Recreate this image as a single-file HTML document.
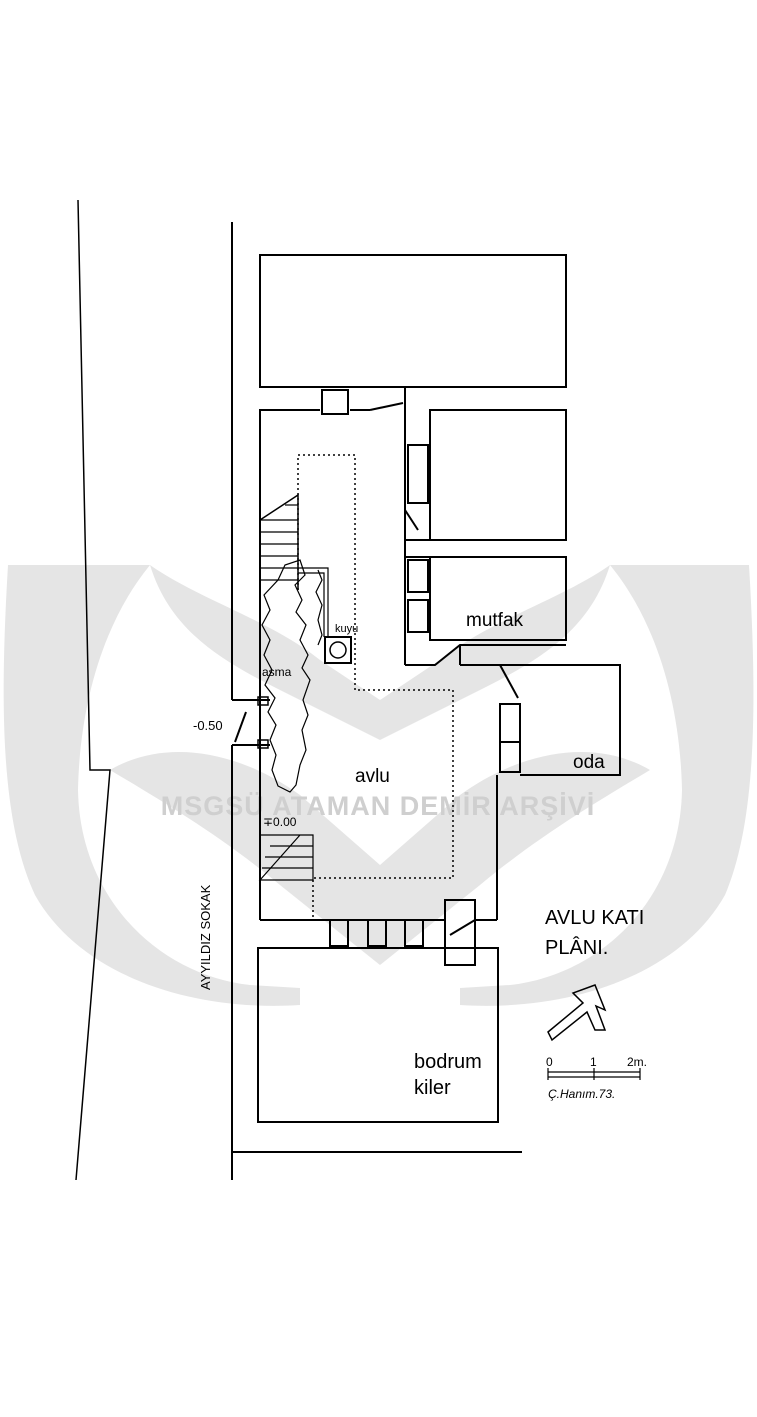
<!DOCTYPE html>
<html><head><style>
html,body{margin:0;padding:0;background:#fff;}
svg{display:block;}
text{font-family:"Liberation Sans",sans-serif;}
</style></head><body>
<svg width="757" height="1417" viewBox="0 0 757 1417" xmlns="http://www.w3.org/2000/svg">
<rect width="757" height="1417" fill="#fff"/>
<!-- watermark -->
<g fill="#e5e5e5">
<path d="M8,565 L150,565 C105,620 80,700 78,790 C80,900 160,975 250,985 L300,988 L300,1005 C190,1012 80,975 35,895 C0,820 0,700 8,565 Z"/>
<path d="M749,565 L610,565 C655,620 680,700 682,790 C680,900 600,975 510,985 L460,988 L460,1005 C570,1012 680,975 725,895 C757,820 757,700 749,565 Z"/>
<path d="M150,565 C200,600 270,620 320,660 L380,700 L440,660 C490,620 560,600 610,565 C590,630 540,660 480,690 L380,740 L280,690 C220,660 170,630 150,565 Z"/>
<path d="M110,770 C170,735 245,755 300,795 L380,865 L460,795 C515,755 590,735 650,770 C600,800 540,835 480,885 L380,965 L280,885 C220,835 160,800 110,770 Z"/>
</g>
<text x="378" y="815" text-anchor="middle" font-size="27" font-weight="bold" fill="#cfcfcf" letter-spacing="1">MSGSÜ ATAMAN DEMİR ARŞİVİ</text>
<g stroke="#000" stroke-width="2" fill="none">
<polyline points="78,200 90,770 110,770 76,1180" stroke-width="1.5"/>
<line x1="232" y1="222" x2="232" y2="700"/>
<line x1="232" y1="745" x2="232" y2="1180"/>
<rect x="260" y="255" width="306" height="132"/>
<polyline points="260,920 260,410 320,410"/>
<line x1="350" y1="410" x2="370" y2="410"/>
<rect x="322" y="390" width="26" height="24"/>
<line x1="370" y1="410" x2="403" y2="403"/>
<line x1="405" y1="387" x2="405" y2="665"/>
<rect x="430" y="410" width="136" height="130"/>
<rect x="408" y="445" width="20" height="58"/>
<rect x="430" y="557" width="136" height="83"/>
<rect x="408" y="560" width="20" height="32"/>
<rect x="408" y="600" width="20" height="32"/>
<line x1="405" y1="540" x2="430" y2="540"/>
<line x1="405" y1="557" x2="430" y2="557"/>
<line x1="405" y1="510" x2="418" y2="530"/>
<polyline points="405,665 435,665 460,645 566,645"/>
<line x1="460" y1="645" x2="460" y2="665"/>
<polyline points="460,665 620,665 620,775 520,775"/>
<line x1="500" y1="665" x2="518" y2="698"/>
<rect x="500" y="704" width="20" height="38"/>
<rect x="500" y="742" width="20" height="30"/>
<line x1="497" y1="775" x2="497" y2="920"/>
<line x1="260" y1="920" x2="445" y2="920"/>
<line x1="475" y1="920" x2="497" y2="920"/>
<rect x="445" y="900" width="30" height="65"/>
<line x1="450" y1="935" x2="475" y2="920"/>
<rect x="330" y="920" width="18" height="26"/>
<rect x="368" y="920" width="18" height="26"/>
<rect x="405" y="920" width="18" height="26"/>
<rect x="258" y="948" width="240" height="174"/>
<line x1="232" y1="1152" x2="522" y2="1152"/>
<polyline points="232,700 270,700"/>
<polyline points="232,745 270,745"/>
<rect x="258" y="697" width="10" height="8" stroke-width="1.5"/>
<rect x="258" y="740" width="10" height="8" stroke-width="1.5"/>
<line x1="235" y1="742" x2="246" y2="712"/>
<polyline points="260,520 298,495 298,590" stroke-width="1.5"/>
<g stroke-width="1.2">
<line x1="260" y1="520" x2="298" y2="520"/><line x1="260" y1="532" x2="298" y2="532"/>
<line x1="260" y1="544" x2="298" y2="544"/><line x1="260" y1="556" x2="298" y2="556"/>
<line x1="260" y1="568" x2="298" y2="568"/><line x1="260" y1="580" x2="298" y2="580"/>
<line x1="285" y1="505" x2="298" y2="505"/>
<polyline points="298,568 328,568 328,637"/>
<polyline points="298,573 324,573 324,637"/>
</g>
<polyline points="260,835 313,835 313,880 260,880 300,835" stroke-width="1.2"/>
<g stroke-width="1.2">
<line x1="270" y1="846" x2="313" y2="846"/><line x1="265" y1="857" x2="313" y2="857"/><line x1="262" y1="868" x2="313" y2="868"/>
</g>
<rect x="325" y="637" width="26" height="26" stroke-width="2"/>
<circle cx="338" cy="650" r="8" stroke-width="1.5"/>
<path d="M300,560 L305,575 L295,585 L302,600 L296,612 L306,625 L300,640 L308,655 L302,668 L310,680 L303,700 L308,715 L302,730 L306,750 L300,765 L296,785 L290,792 L278,786 L272,770 L276,755 L270,740 L276,725 L268,712 L275,698 L265,685 L272,670 L264,655 L270,640 L262,625 L270,610 L264,595 L278,580 L285,565 Z M318,570 L322,580 L316,592 L322,605 L318,620 L322,635 L318,645" stroke-width="1.2"/>
<path d="M548,1032 L583,1003 L573,993 L595,985 L605,1010 L596,1006 L605,1030 L595,1030 L587,1012 L552,1040 Z" stroke-width="1.5"/>
<line x1="548" y1="1072" x2="640" y2="1072" stroke-width="1.2"/>
<line x1="548" y1="1077" x2="640" y2="1077" stroke-width="1.2"/>
<line x1="548" y1="1068" x2="548" y2="1080" stroke-width="1.2"/>
<line x1="594" y1="1068" x2="594" y2="1080" stroke-width="1.2"/>
<line x1="640" y1="1068" x2="640" y2="1080" stroke-width="1.2"/>
</g>
<polyline points="298,590 298,455 355,455 355,690 453,690 453,878 313,878 313,920" fill="none" stroke="#000" stroke-width="1.5" stroke-dasharray="2,3"/>
<g fill="#000">
<text x="466" y="626" font-size="19">mutfak</text>
<text x="573" y="768" font-size="19">oda</text>
<text x="355" y="782" font-size="19">avlu</text>
<text x="414" y="1068" font-size="20">bodrum</text>
<text x="414" y="1094" font-size="20">kiler</text>
<text x="545" y="924" font-size="20">AVLU KATI</text>
<text x="545" y="954" font-size="20">PLÂNI.</text>
<text x="335" y="632" font-size="11">kuyu</text>
<text x="262" y="676" font-size="12">asma</text>
<text x="193" y="730" font-size="13">-0.50</text>
<text x="263" y="826" font-size="12">∓0.00</text>
<text x="546" y="1066" font-size="12">0</text>
<text x="590" y="1066" font-size="12">1</text>
<text x="627" y="1066" font-size="12">2m.</text>
<text x="548" y="1098" font-size="12" font-style="italic">Ç.Hanım.73.</text>
<text transform="translate(210,990) rotate(-90)" font-size="13">AYYILDIZ  SOKAK</text>
</g>
</svg>
</body></html>
